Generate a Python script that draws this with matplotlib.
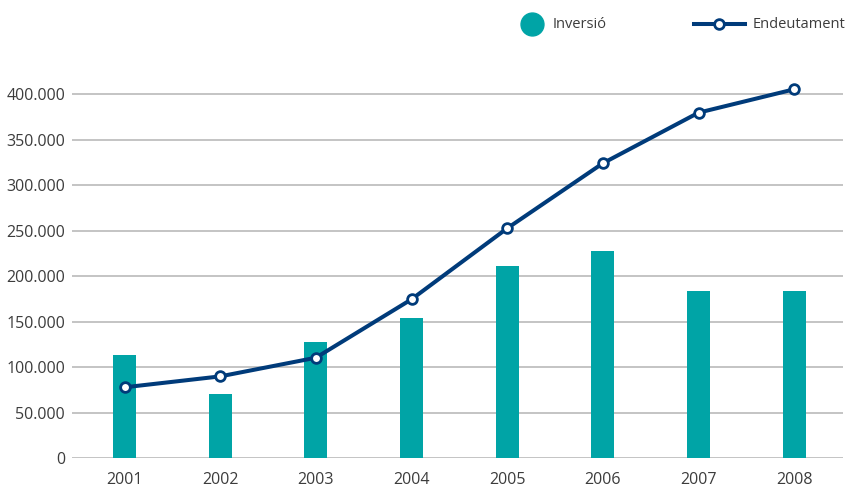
"""
plot.py

Bar + line chart: yearly investment (bars) against debt level (line), 2001-2008.
"""

import matplotlib
matplotlib.use("Agg")
import matplotlib.pyplot as plt
from matplotlib import font_manager
from matplotlib.lines import Line2D
from matplotlib.ticker import FuncFormatter, MultipleLocator

YEARS = ["2001", "2002", "2003", "2004", "2005", "2006", "2007", "2008"]
INVERSIO = [113500, 70700, 127800, 154200, 211300, 227800, 183800, 183800]
ENDEUTAMENT = [78000, 90000, 110500, 174700, 252700, 324200, 379800, 405500]

TEAL = "#00A4A6"
NAVY = "#003B7A"
TEXT = "#3c3c3c"
GRID = "#b4b4b4"

plt.rcParams["font.family"] = ["Open Sans", "DejaVu Sans"]


def narrow_font():
    """Pick a narrow family for the legend if one is installed."""
    for name in ("Liberation Sans Narrow", "DejaVu Sans Condensed"):
        try:
            font_manager.findfont(name, fallback_to_default=False)
            return name, 12.5
        except ValueError:
            continue
    return "Open Sans", 10.5


def thousands(v, _pos):
    return f"{int(v):,}".replace(",", ".")


def main() -> None:
    fig = plt.figure(figsize=(8.46, 4.88), dpi=100)
    ax = fig.add_axes([0.0851, 0.0609, 0.9113, 0.8018])

    x = list(range(len(YEARS)))
    ax.bar(x, INVERSIO, width=0.24, color=TEAL, zorder=2)
    ax.plot(x, ENDEUTAMENT, color=NAVY, linewidth=2.9, marker="o",
            markersize=7, markerfacecolor="white", markeredgecolor=NAVY,
            markeredgewidth=2, zorder=3)

    ax.set_xlim(-0.549, 7.51)
    ax.set_ylim(0, 430000)
    ax.yaxis.set_major_locator(MultipleLocator(50000))
    ax.yaxis.set_major_formatter(FuncFormatter(thousands))
    ax.set_xticks(x)
    ax.set_xticklabels(YEARS)

    ax.grid(axis="y", color=GRID, linewidth=1.1, zorder=1)
    ax.set_axisbelow(True)
    for s in ax.spines.values():
        s.set_visible(False)
    ax.tick_params(axis="both", length=0, labelsize=11.5, colors=TEXT)
    ax.tick_params(axis="y", pad=5)
    ax.tick_params(axis="x", pad=10)

    # legend drawn by hand across the top
    fam, size = narrow_font()
    ly = 1 - 24 / 488
    fig.add_artist(Line2D([532 / 846], [ly], transform=fig.transFigure,
                          marker="o", markersize=16.5, color=TEAL, linestyle="none"))
    fig.text(553 / 846, ly, "Inversió", color=TEXT, fontsize=size, family=fam,
             va="center", ha="left")
    fig.add_artist(Line2D([694 / 846, 745 / 846], [ly] * 2,
                          transform=fig.transFigure, color=NAVY, linewidth=2.9))
    fig.add_artist(Line2D([719 / 846], [ly], transform=fig.transFigure,
                          marker="o", markersize=7, markerfacecolor="white",
                          markeredgecolor=NAVY, markeredgewidth=2, linestyle="none"))
    fig.text(753 / 846, ly, "Endeutament", color=TEXT, fontsize=size, family=fam,
             va="center", ha="left")

    fig.savefig("out.png", dpi=100)


if __name__ == "__main__":
    main()
